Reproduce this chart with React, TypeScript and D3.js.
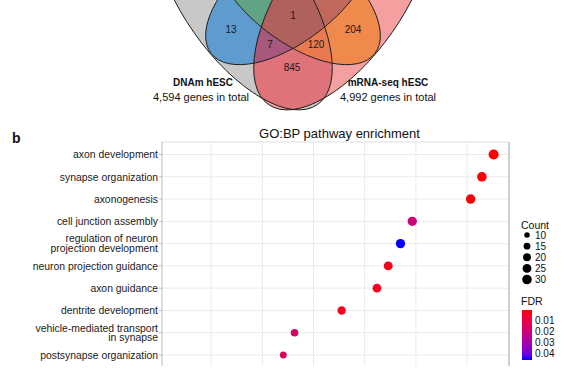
import React from 'react';
import * as d3 from 'd3';

// ---------- DATA ----------
const categories = [
  'axon development',
  'synapse organization',
  'axonogenesis',
  'cell junction assembly',
  'regulation of neuron\nprojection development',
  'neuron projection guidance',
  'axon guidance',
  'dentrite development',
  'vehicle-mediated transport\nin synapse',
  'postsynapse organization',
];
const geneRatio = [0.0752, 0.0729, 0.0707, 0.0593, 0.057, 0.0546, 0.0524, 0.0455, 0.0363, 0.0341];
const counts = [33, 30, 29, 28, 28, 26, 25, 23, 19, 15];
const fdr = [0.0002, 0.0005, 0.0008, 0.019, 0.0458, 0.003, 0.0032, 0.0035, 0.016, 0.014];
const gridValues = [0.02, 0.03, 0.04, 0.05, 0.06, 0.07];
const countBreaks = [10, 15, 20, 25, 30];
const fdrBreaks = [0.01, 0.02, 0.03, 0.04];

const vennSetNames = ['DNAm hESC', 'mRNA-seq hESC'];
const vennTotals = ['4,594 genes in total', '4,992 genes in total'];
// region key = membership in sets A(gray) B(blue) C(orange) D(pink)
const vennRegionKeys = ['1100', '1111', '1101', '1011', '0011', '1001'];
const vennRegionCounts = [13, 1, 7, 120, 204, 845];

// ---------- LAYOUT / STYLE ----------
const W = 574, H = 372;
const FONT = 'Liberation Sans, Arial, Helvetica, sans-serif';
const panel = { left: 162, right: 509, top: 142, bottom: 366 };
const ellipses = [
  { id: 'A', cx: 243, cy: -2, rx: 130, ry: 60, rot: 55 },
  { id: 'B', cx: 290, cy: -8, rx: 100, ry: 49, rot: -38 },
  { id: 'C', cx: 296, cy: -8, rx: 100, ry: 49, rot: 38 },
  { id: 'D', cx: 343, cy: -2, rx: 130, ry: 60, rot: -55 },
];
const regionColors: Record<string, string> = {
  '1000': '#c8c8c8', '0001': '#f4a0a0', '0100': '#4f8fcb', '0010': '#f2a060',
  '1100': '#5e9bcf', '0011': '#f0894c', '1001': '#e0737a', '1101': '#a6597c',
  '1011': '#e97a50', '1111': '#b0615e', '1110': '#62a285', '0111': '#c0685c',
  '1010': '#d99a6a', '0101': '#9c7cb0', '0110': '#6a9a80',
};
const vennLabelPos: Record<string, [number, number]> = {
  '1100': [231, 29], '1111': [293, 15], '1101': [270, 44], '1011': [316, 44],
  '0011': [353, 29], '1001': [292, 67],
};

export default function App() {
  const x = d3.scaleLinear().domain([0.0104, 0.0782]).range([panel.left, panel.right]);
  const y = d3.scalePoint<string>().domain(categories).range([154.5, 355]);
  const fdrMin = 0, fdrMax = 0.0458;
  const color = d3.scaleLinear<string>().domain([fdrMin, fdrMax]).range(['#ff0000', '#0000ff']).interpolate(d3.interpolateLab);
  const r = d3.scaleSqrt().domain([0, 30]).range([0, 4.8]);
  const cbTop = 310, cbBottom = 360;
  const cbY = d3.scaleLinear().domain([fdrMin, fdrMax]).range([cbTop, cbBottom]);
  const legY = d3.scalePoint<number>().domain(countBreaks).range([235, 279.5]);

  const keys: string[] = [];
  for (let m = 1; m < 16; m++) keys.push(m.toString(2).padStart(4, '0'));

  const ell = (e: any, props: any) => (
    <ellipse cx={e.cx} cy={e.cy} rx={e.rx} ry={e.ry} transform={`rotate(${e.rot},${e.cx},${e.cy})`} {...props} />
  );

  return (
    <svg width={W} height={H} style={{ position: 'absolute', left: 0, top: 0, background: '#fff' }} fontFamily={FONT}>
      <defs>
        {ellipses.map((e) => (
          <clipPath id={`clip-${e.id}`} key={e.id}>{ell(e, {})}</clipPath>
        ))}
        {keys.map((k) => (
          <mask id={`mask-${k}`} key={k} maskUnits="userSpaceOnUse" x={0} y={-200} width={W} height={400}>
            <rect x={0} y={-200} width={W} height={400} fill="#fff" />
            {ellipses.map((e, i) => (k[i] === '0' ? <g key={e.id}>{ell(e, { fill: '#000' })}</g> : null))}
          </mask>
        ))}
        <linearGradient id="fdrGrad" x1="0" y1="0" x2="0" y2="1">
          {d3.range(0, 1.0001, 0.1).map((t) => (
            <stop key={t} offset={t} stopColor={color(fdrMin + t * (fdrMax - fdrMin))} />
          ))}
        </linearGradient>
      </defs>

      {/* ---- Venn (part a, cropped) ---- */}
      <g>
        {keys.map((k) => {
          let node: any = <rect x={0} y={-200} width={W} height={330} fill={regionColors[k]} mask={`url(#mask-${k})`} />;
          ellipses.forEach((e, i) => {
            if (k[i] === '1') node = <g clipPath={`url(#clip-${e.id})`}>{node}</g>;
          });
          return <g key={k}>{node}</g>;
        })}
        {ellipses.map((e) => (
          <g key={e.id}>{ell(e, { fill: 'none', stroke: '#1a1a1a', strokeWidth: 0.9 })}</g>
        ))}
        {vennRegionKeys.map((k, i) => (
          <text key={k} x={vennLabelPos[k][0]} y={vennLabelPos[k][1]} dy="0.35em" textAnchor="middle" fontSize={10} fill="#1a1a1a">
            {vennRegionCounts[i]}
          </text>
        ))}
        {vennSetNames.map((n, i) => (
          <g key={n}>
            <text x={i === 0 ? 203 : 388} y={86} textAnchor="middle" fontSize={10} fontWeight="bold" fill="#111">{n}</text>
            <text x={i === 0 ? 201 : 388} y={100.5} textAnchor="middle" fontSize={11} fill="#111">{vennTotals[i]}</text>
          </g>
        ))}
      </g>

      {/* ---- part b ---- */}
      <text x={12} y={143} fontSize={14} fontWeight="bold" fill="#111">b</text>
      <text x={(panel.left + panel.right) / 2 + 4} y={138} textAnchor="middle" fontSize={13} fill="#111">GO:BP pathway enrichment</text>

      {/* grid */}
      {gridValues.map((v) => (
        <line key={v} x1={x(v)} x2={x(v)} y1={panel.top} y2={panel.bottom} stroke="#ebebeb" strokeWidth={1} />
      ))}
      {categories.map((c) => (
        <line key={c} x1={panel.left} x2={panel.right} y1={y(c)} y2={y(c)} stroke="#ebebeb" strokeWidth={1} />
      ))}
      <line x1={panel.left} x2={panel.right} y1={panel.top} y2={panel.top} stroke="#e0e0e0" strokeWidth={1} />
      <line x1={panel.right} x2={panel.right} y1={panel.top} y2={panel.bottom} stroke="#d0d0d0" strokeWidth={2} />
      <line x1={panel.left} x2={panel.left} y1={panel.top} y2={panel.bottom} stroke="#bdbdbd" strokeWidth={1} />

      {/* y axis labels */}
      {categories.map((c) => {
        const lines = c.split('\n');
        const yc = y(c)!;
        const lh = 9.8;
        return (
          <g key={c}>
            <line x1={panel.left - 3} x2={panel.left} y1={yc} y2={yc} stroke="#bdbdbd" />
            <text x={panel.left - 4} y={yc - ((lines.length - 1) / 2) * lh} textAnchor="end" fontSize={10.4} fill="#1a1a1a">
              {lines.map((ln, j) => (
                <tspan key={j} x={panel.left - 4} dy={j === 0 ? '0.36em' : lh}>{ln}</tspan>
              ))}
            </text>
          </g>
        );
      })}

      {/* points */}
      {categories.map((c, i) => (
        <circle key={c} cx={x(geneRatio[i])} cy={y(c)} r={r(counts[i])} fill={color(fdr[i])} />
      ))}

      {/* legend: Count */}
      <text x={521} y={225} dy="0.35em" fontSize={10.5} fill="#111">Count</text>
      {countBreaks.map((v) => (
        <g key={v}>
          <circle cx={527} cy={legY(v)} r={r(v)} fill="#000" />
          <text x={535} y={legY(v)} dy="0.35em" fontSize={10} fill="#111">{v}</text>
        </g>
      ))}

      {/* legend: FDR */}
      <text x={521} y={301.5} dy="0.35em" fontSize={10.5} fill="#111">FDR</text>
      <rect x={522} y={cbTop} width={10} height={cbBottom - cbTop} fill="url(#fdrGrad)" />
      {fdrBreaks.map((v) => (
        <g key={v}>
          <text x={535} y={cbY(v)} dy="0.35em" fontSize={10} fill="#111">{v.toFixed(2)}</text>
        </g>
      ))}
    </svg>
  );
}
